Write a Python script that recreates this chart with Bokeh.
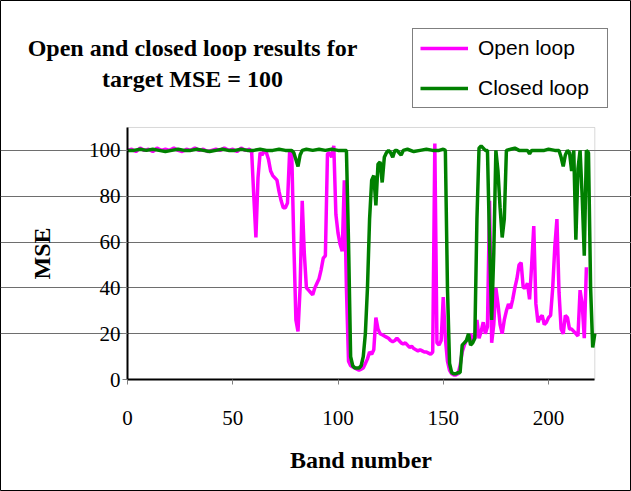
from bokeh.plotting import figure
from bokeh.models import Range1d, FixedTicker, Legend, LegendItem, Label, BoxAnnotation
from bokeh.embed import file_html
from bokeh.resources import INLINE

# ---- data ----
open_band = [0, 2, 4, 6, 8, 10, 12, 14, 16, 18, 20, 22, 24, 26, 28, 30, 32, 34, 36, 38, 40, 42, 44, 46, 48, 50, 52, 54, 56, 58,
             59, 60, 61, 62, 63, 64, 65, 66, 67, 68, 69, 70, 71, 72, 73, 74, 75, 76, 77, 78, 79, 80, 81, 82, 83, 84, 85, 86, 87, 88, 89,
             90, 91, 92, 93, 94, 95, 96, 97, 98, 99, 100, 101, 102, 103, 104, 105, 106, 107, 108, 109, 110, 111, 112, 113, 114, 115,
             116, 117, 118, 119, 120, 121, 122, 123, 124, 125, 126, 127, 128, 129, 130, 131, 132, 133, 134, 135, 136, 137, 138, 139,
             140, 141, 142, 143, 144, 145, 146, 147, 148, 149, 150, 151, 152, 153, 154, 155, 156, 157, 158, 159, 160, 161, 162, 163,
             164, 165, 166, 167, 168, 169, 170, 171, 172, 173, 174, 175, 176, 177, 178, 179, 180, 181, 182, 183, 184, 185, 186, 187,
             188, 189, 190, 191, 192, 193, 194, 195, 196, 197, 198, 199, 200, 201, 202, 203, 204, 205, 206, 207, 208, 209, 210, 211,
             212, 213, 214, 215, 216, 217, 218]
open_mse = [100, 100.5, 99.5, 101, 100, 100.5, 99.5, 101, 100, 100.5, 100, 101, 100, 99.5, 100.5, 100, 101, 100, 100.5, 99.5,
            100, 100.5, 100, 101, 100, 100.5, 99.5, 101, 100, 100.5,
            99, 80, 62, 88, 99, 98, 100, 99, 96, 91, 89, 88, 87, 82, 78, 75, 75, 77, 99, 100, 60, 26, 21, 40, 78, 55, 40, 39, 38, 37, 40,
            42, 44, 48, 53, 54, 98.5, 99, 97, 102, 72, 64, 59, 56, 87, 40, 8, 6, 5.5, 5, 4.5, 4, 4.5, 5, 7, 9, 12,
            11, 13, 27, 22, 20, 19.5, 19, 18.5, 18, 17, 16.5, 17, 18, 17, 16, 15.5, 16, 15, 14, 14.5, 13.5, 13, 12.5, 13,
            12.5, 12, 12, 11.5, 11, 12, 103, 16, 15, 17, 36, 18, 8, 4, 2.5, 2, 2, 2.5, 6, 12, 15, 17, 18, 20,
            17, 18, 26, 18, 21, 25, 20, 23, 78, 16, 24, 40, 33, 24, 20, 26, 30, 33, 31, 35, 40, 44, 50, 51,
            40, 40, 42, 35, 50, 67, 33, 25, 27, 28, 24, 25, 27, 28, 40, 58, 70, 38, 22, 20, 28, 27, 22, 22,
            21, 20, 19, 39, 33, 18, 49]

closed_band = [0, 3, 6, 9, 12, 15, 18, 21, 24, 27, 30, 33, 36, 39, 42, 45, 48, 51, 54, 57, 60, 63, 66, 69, 72, 75, 78,
               79, 80, 81, 82, 83, 85, 88, 91, 94, 97, 100, 103, 104, 105, 106, 107, 108, 109, 110, 111, 112, 113, 114, 115,
               116, 117, 118, 119, 120, 121, 122, 123, 124, 125, 126, 127, 128, 129, 130, 131, 133, 136, 139, 142, 145, 148,
               150, 151, 152, 153, 154, 155, 156, 157, 158, 159, 160, 161, 162, 163, 164, 165, 166, 167, 168, 169, 170, 171,
               172, 173, 174, 175, 176, 177, 178, 179, 180, 182, 184, 186, 188, 190, 191, 192, 195, 198, 200, 203, 205, 206,
               207, 208, 209, 210, 211, 212, 213, 214, 215, 216, 217, 218, 219, 220, 221, 222]
closed_mse = [100, 100, 100.5, 100, 100.5, 100, 99.5, 100, 100.5, 100, 100, 100.5, 100, 99.5, 100, 100.5, 100, 100, 100.5, 100,
              100, 100.5, 100, 100, 100.5, 100, 100,
              99, 96, 93, 98, 100, 100.5, 100, 100.5, 100, 100.5, 100, 100, 100, 60, 10, 6, 5, 5, 5, 6, 10, 20, 40, 70,
              87, 89, 76, 94, 95, 86, 97, 99, 100, 99, 97, 100, 100, 99, 98, 100, 100.5, 99.5, 100, 100.5, 100, 100,
              100.5, 100, 40, 7, 3, 2.5, 2.5, 3, 3, 15, 16, 17, 20, 15, 16, 18, 70, 101, 102, 101, 100, 100,
              60, 26, 55, 100, 91, 75, 62, 70, 100, 100.5, 101, 100, 100, 100, 98.5, 100, 100, 100, 100.5, 100, 100, 97,
              93, 98, 100, 99, 91, 100, 61, 92, 100, 80, 54, 100, 99, 40, 14, 20]

x_ticks = [0, 50, 100, 150, 200]
y_ticks = [0, 20, 40, 60, 80, 100]
x_max = 222
y_max = 110

title_lines = ["Open and closed loop results for", "target MSE = 100"]
series_names = ["Open loop", "Closed loop"]

SERIF = "Liberation Serif"
SANS = "Liberation Sans"

W, H = 631, 491
# plot area in page pixels: x 127..594, y 127..379
px_per_x = 2.105
px_per_y = 2.291
x_lo = -127 / px_per_x
x_hi = (W - 127) / px_per_x
y_lo = -(H - 379) / px_per_y
y_hi = 379 / px_per_y

p = figure(width=W, height=H, output_backend="svg", toolbar_location=None,
           x_range=Range1d(x_lo, x_hi), y_range=Range1d(y_lo, y_hi),
           min_border=0)
p.background_fill_color = "white"
p.border_fill_color = "white"
p.outline_line_color = "black"
p.outline_line_width = 1

# plot-area box (top/right grey edges)
p.add_layout(BoxAnnotation(left=0, right=x_max, bottom=0, top=y_max, fill_alpha=0,
                           line_color="#808080", line_width=1, level="underlay"))

p.xgrid.visible = False
p.ygrid.grid_line_color = "#6e6e6e"
p.ygrid.grid_line_width = 1
p.ygrid.ticker = FixedTicker(ticks=[20, 40, 60, 80, 100])
p.ygrid.bounds = (0, x_max)

for ax in (p.xaxis[0], p.yaxis[0]):
    ax.fixed_location = 0
    ax.axis_line_color = "black"
    ax.axis_line_width = 2
    ax.major_tick_line_color = "#808080"
    ax.major_tick_line_width = 1
    ax.major_tick_in = 0
    ax.major_tick_out = 5
    ax.minor_tick_line_color = None
    ax.major_label_text_font = SERIF
    ax.major_label_text_font_size = "21px"
    ax.major_label_text_color = "black"
    ax.axis_label_text_font = SERIF
    ax.axis_label_text_font_size = "24px"
    ax.axis_label_text_font_style = "bold"
    ax.axis_label_text_color = "black"

p.xaxis.bounds = (0, x_max)
p.yaxis.bounds = (0, y_max)
p.xaxis.ticker = FixedTicker(ticks=x_ticks)
p.yaxis.ticker = FixedTicker(ticks=y_ticks)
p.xaxis.major_label_standoff = 26
p.yaxis.major_label_standoff = 2
p.xaxis.axis_label = "Band number"
p.yaxis.axis_label = "MSE"
p.xaxis.axis_label_standoff = 19
p.yaxis.axis_label_standoff = 31

r_open = p.line(open_band, open_mse, line_color="#ff00ff", line_width=3.5)
r_closed = p.line(closed_band, closed_mse, line_color="#008000", line_width=3.5)

legend = Legend(items=[LegendItem(label=series_names[0], renderers=[r_open]),
                       LegendItem(label=series_names[1], renderers=[r_closed])],
                location=(412, 383))
legend.label_text_font = SANS
legend.label_text_font_size = "21px"
legend.label_text_color = "black"
legend.glyph_width = 48
legend.glyph_height = 24
legend.label_height = 24
legend.label_width = 122
legend.spacing = 16
legend.padding = 7
legend.margin = 0
legend.label_standoff = 10
legend.border_line_color = "black"
legend.border_line_width = 1
legend.background_fill_color = "white"
legend.background_fill_alpha = 1
p.add_layout(legend, "center")

title_cx = (192 - 127) / px_per_x
for txt, py in zip(title_lines, [47, 78]):
    p.add_layout(Label(x=title_cx, y=(379 - py) / px_per_y, text=txt, text_align="center",
                       text_baseline="middle", text_font=SERIF, text_font_size="24px",
                       text_font_style="bold", text_color="black"))

open("out.html", "w").write(file_html(p, INLINE))
